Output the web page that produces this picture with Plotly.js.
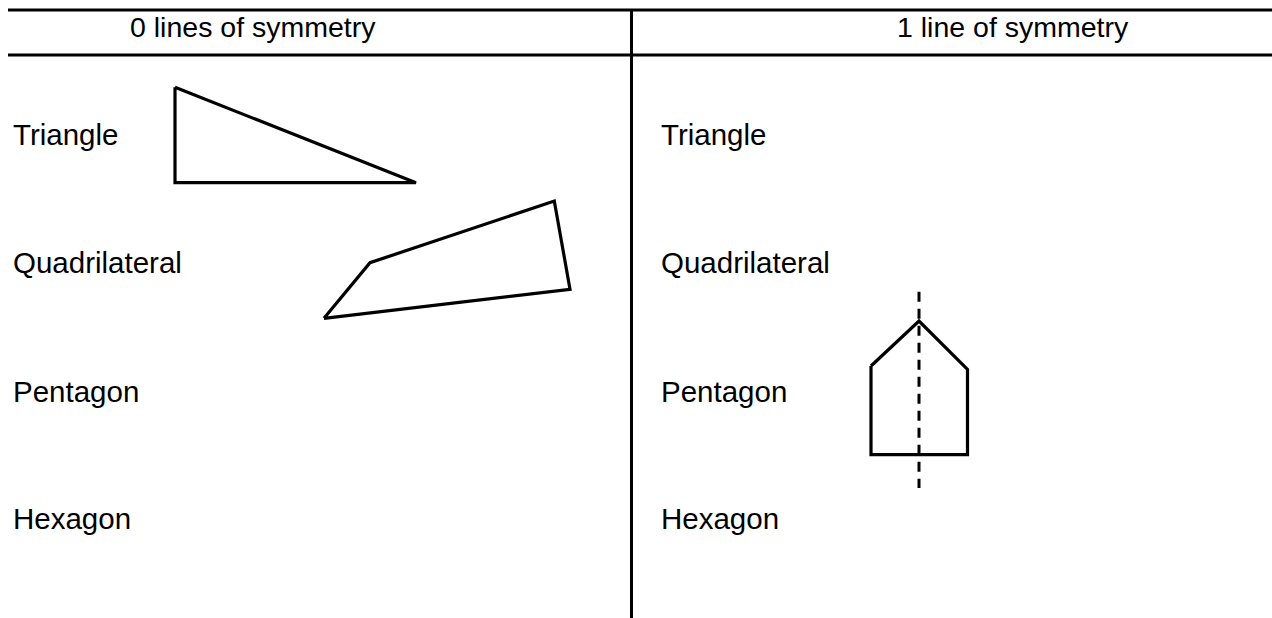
<!DOCTYPE html>
<html>
<head>
<meta charset="utf-8">
<script src="https://cdn.plot.ly/plotly-3.0.1.min.js"></script>
<style>html,body{margin:0;padding:0;background:#fff;}#chart{width:1272px;height:618px;}</style>
</head>
<body>
<div id="chart"></div>
<script>
// Column headings and row labels
const columnHeaders = ["0 lines of symmetry", "1 line of symmetry"];
const headerCenters = [252.5, 1012.5];
const rowLabels = ["Triangle", "Quadrilateral", "Pentagon", "Hexagon"];
const rowBaselines = [145, 272.7, 401.7, 529.3];
const labelColumnsX = [12, 660];

// Shape vertices (drawing units, y downward)
const triangleX = [175, 175, 416, 175];
const triangleY = [87.3, 182.7, 182.7, 87.3];
const quadX = [324, 370, 554.3, 570, 324];
const quadY = [318.3, 262.7, 201, 289.3, 318.3];
const pentagonX = [871, 919, 967.5, 967.5, 871, 871];
const pentagonY = [366, 321, 369.3, 454.7, 454.7, 366];
const symmetryLineX = [919, 919];
const symmetryLineY = [291.7, 488];

// Table grid
const gridTopY = 10, gridHeaderY = 55, gridLeftX = 8, gridRightX = 1272, dividerX = 631.5, gridBottomY = 618;

const shapeLine = {color: "#000", width: 3.2};
const traces = [
  {x: triangleX, y: triangleY, mode: "lines", line: shapeLine, hoverinfo: "skip"},
  {x: quadX, y: quadY, mode: "lines", line: shapeLine, hoverinfo: "skip"},
  {x: pentagonX, y: pentagonY, mode: "lines", line: shapeLine, hoverinfo: "skip"},
  {x: symmetryLineX, y: symmetryLineY, mode: "lines", line: {color: "#000", width: 3, dash: "10px,7px"}, hoverinfo: "skip"}
];

const annotations = [];
const headerSize = 28.5, labelSize = 29.5;
columnHeaders.forEach((t, i) => {
  annotations.push({x: headerCenters[i], y: 37.3 - 0.35 * headerSize, xref: "x", yref: "y", text: t,
    showarrow: false, xanchor: "center", yanchor: "middle", borderpad: 0,
    font: {family: "Liberation Sans, Arial, Helvetica, sans-serif", size: headerSize, color: "#000"}});
});
labelColumnsX.forEach(lx => {
  rowLabels.forEach((t, i) => {
    annotations.push({x: lx, y: rowBaselines[i] - 0.35 * labelSize, xref: "x", yref: "y", text: t,
      showarrow: false, xanchor: "left", yanchor: "middle", borderpad: 0,
      font: {family: "Liberation Sans, Arial, Helvetica, sans-serif", size: labelSize, color: "#000"}});
  });
});

const gridLine = {color: "#000", width: 3};
const shapes = [
  {type: "line", xref: "x", yref: "y", x0: gridLeftX, x1: gridRightX, y0: gridTopY, y1: gridTopY, line: gridLine},
  {type: "line", xref: "x", yref: "y", x0: gridLeftX, x1: gridRightX, y0: gridHeaderY, y1: gridHeaderY, line: gridLine},
  {type: "line", xref: "x", yref: "y", x0: dividerX, x1: dividerX, y0: gridTopY, y1: gridBottomY, line: gridLine}
];

const layout = {
  width: 1272, height: 618,
  margin: {l: 0, r: 0, t: 0, b: 0},
  paper_bgcolor: "#fff", plot_bgcolor: "#fff",
  showlegend: false,
  xaxis: {range: [0, 1272], visible: false, fixedrange: true},
  yaxis: {range: [618, 0], visible: false, fixedrange: true},
  shapes: shapes,
  annotations: annotations
};
Plotly.newPlot("chart", traces, layout, {staticPlot: true, displayModeBar: false});
</script>
</body>
</html>
